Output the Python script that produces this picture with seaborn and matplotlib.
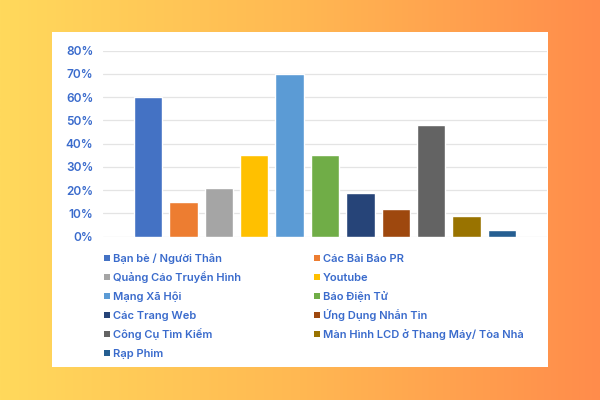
import numpy as np
import pandas as pd
import matplotlib
matplotlib.use("Agg")
import matplotlib.pyplot as plt
from matplotlib.patches import Rectangle
from matplotlib.ticker import PercentFormatter
import seaborn as sns

# ================= DATA =================
categories = [
    "Bạn bè / Người Thân",
    "Các Bài Báo PR",
    "Quảng Cáo Truyền Hình",
    "Youtube",
    "Mạng Xã Hội",
    "Báo Điện Tử",
    "Các Trang Web",
    "Ứng Dụng Nhắn Tin",
    "Công Cụ Tìm Kiếm",
    "Màn Hình LCD ở Thang Máy/ Tòa Nhà",
    "Rạp Phim",
]
values = [60, 15, 21, 35, 70, 35, 19, 12, 48, 9, 3]
colors = ["#4472C4", "#ED7D31", "#A5A5A5", "#FFC000", "#5B9BD5", "#70AD47",
          "#264478", "#9E480E", "#636363", "#997300", "#255E91"]
y_ticks = [0, 10, 20, 30, 40, 50, 60, 70, 80]

TEXT_BLUE = "#3A6BCC"

df = pd.DataFrame({"source": categories, "pct": values})

sns.set_theme(style="white")
plt.rcParams["font.family"] = ["Inter", "DejaVu Sans"]

fig = plt.figure(figsize=(6, 4), dpi=100)

# ================= BACKGROUND =================
bg = fig.add_axes([0, 0, 1, 1], zorder=-10)
grad = np.linspace(0, 1, 256).reshape(1, -1)
cmap = matplotlib.colors.LinearSegmentedColormap.from_list(
    "bg", ["#FFD95C", "#FFB852", "#FF8C4B"])
bg.imshow(grad, aspect="auto", cmap=cmap, extent=[0, 1, 0, 1])
bg.add_patch(Rectangle((52 / 600, 33 / 400), 496 / 600, 335 / 400,
                       facecolor="white", edgecolor="none",
                       transform=bg.transAxes))
bg.set_xlim(0, 1)
bg.set_ylim(0, 1)
bg.axis("off")

# ================= BAR CHART =================
ax = fig.add_axes([103 / 600, (400 - 236.7) / 400, 444 / 600, 186 / 400])
ax.patch.set_alpha(0)
sns.barplot(data=df, x="source", y="pct", hue="source", palette=colors,
            width=0.8, dodge=False, legend=False, ax=ax, saturation=1)

ax.set_xlim(-1.27, len(categories) - 1 + 1.27)
ax.set_ylim(0, 80)
ax.set_yticks(y_ticks)
ax.yaxis.set_major_formatter(PercentFormatter(decimals=0))
ax.set_xticks([])
ax.set_xlabel("")
ax.set_ylabel("")
ax.grid(axis="y", color="#E4E4E4", linewidth=0.9)
ax.set_axisbelow(True)
sns.despine(ax=ax, left=True, bottom=True)
ax.tick_params(axis="y", length=0, pad=7, labelsize=8.5, labelcolor=TEXT_BLUE)
for lbl in ax.get_yticklabels():
    lbl.set_fontweight("semibold")

# ================= LEGEND (row by row, 2 columns) =================
col_x = [104, 314]
for i, (name, c) in enumerate(zip(categories, colors)):
    row, col = divmod(i, 2)
    x = col_x[col]
    y = 258 + row * 19
    bg.add_patch(Rectangle((x / 600, 1 - (y + 3) / 400), 6 / 600, 6 / 400,
                           facecolor=c, edgecolor="none",
                           transform=bg.transAxes))
    bg.text((x + 9) / 600, 1 - (y + 4) / 400, name, transform=bg.transAxes,
            ha="left", va="baseline", fontsize=8, color=TEXT_BLUE,
            fontweight="semibold")

fig.savefig("out.png", dpi=100)
